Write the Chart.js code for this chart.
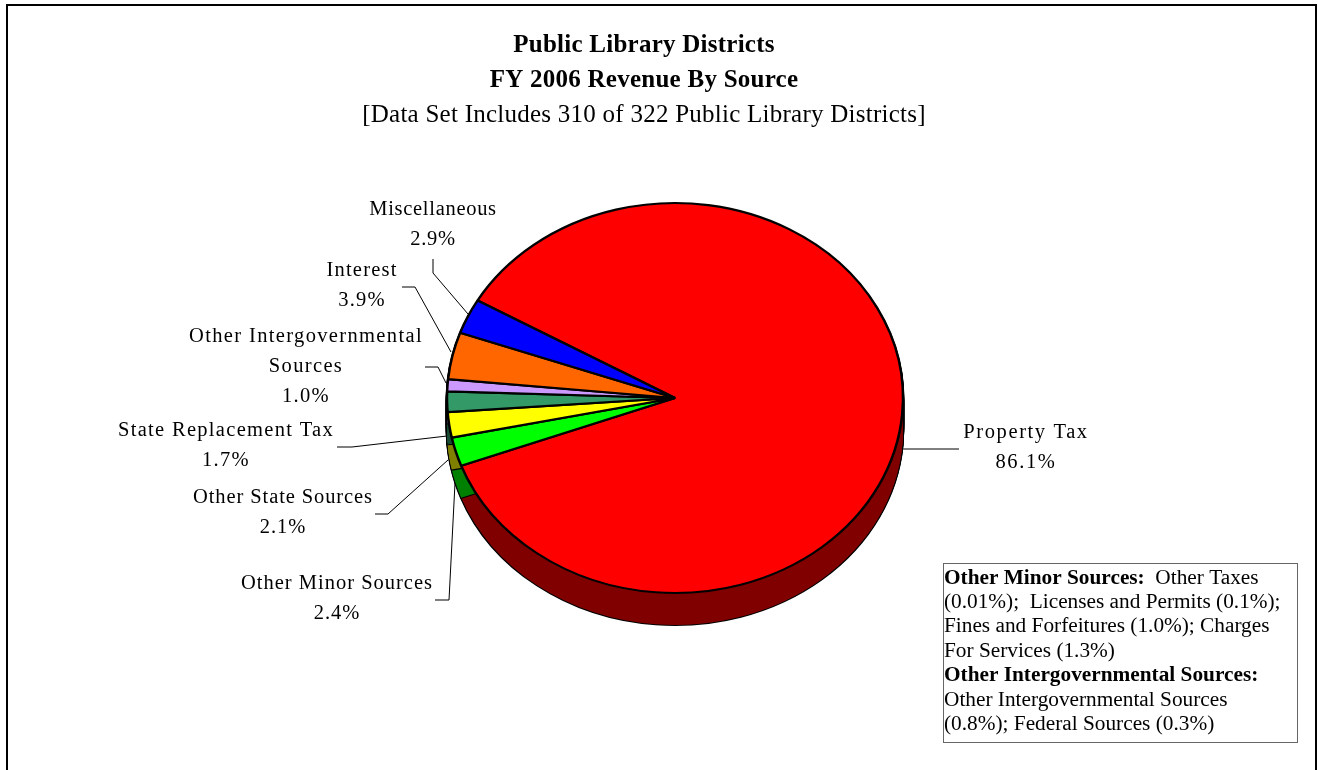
<!DOCTYPE html>
<html>
<head>
<meta charset="utf-8">
<title>Public Library Districts</title>
<script src="https://cdn.jsdelivr.net/npm/chart.js@4"></script>
<style>
  html, body { margin: 0; background: #fff; overflow: hidden; }
  canvas { display: block; }
</style>
</head>
<body>
<canvas id="pieChart" width="1318" height="770"></canvas>
<script>
const categories = ['Property Tax', 'Other Minor Sources', 'Other State Sources', 'State Replacement Tax',
  'Other Intergovernmental Sources', 'Interest', 'Miscellaneous'];
const revenueShare = [86.1, 2.4, 2.1, 1.7, 1.0, 3.9, 2.9];
const sliceColors = ['#ff0000', '#00ff00', '#ffff00', '#339966', '#cc99ff', '#ff6600', '#0000ff'];
const sideColors = ['#800000', '#008000', '#808000', '#1a4d33', '#664d80', '#803300', '#000080'];

const titleLines = ['Public Library Districts', 'FY 2006 Revenue By Source'];
const subtitleLine = '[Data Set Includes 310 of 322 Public Library Districts]';

// note box: each line is a list of [text, bold]
const noteLines = [
  [['Other Minor Sources:', true], ['  Other Taxes', false]],
  [['(0.01%);  Licenses and Permits (0.1%);', false]],
  [['Fines and Forfeitures (1.0%); Charges', false]],
  [['For Services (1.3%)', false]],
  [['Other Intergovernmental Sources:', true]],
  [['Other Intergovernmental Sources', false]],
  [['(0.8%); Federal Sources (0.3%)', false]]
];

// label centre x, first line y, letter spacing, leader polyline, one entry per category
const labelLayout = [
  { x: 1026, y: 433, spacing: 1.6, lines: ['Property Tax'], leader: [[959, 449], [903, 449]] },
  { x: 337, y: 584, spacing: 1.0, lines: ['Other Minor Sources'], leader: [[435, 600], [449, 600], [455, 483]] },
  { x: 283, y: 498, spacing: 0.9, lines: ['Other State Sources'], leader: [[375, 514], [388, 514], [448, 460]] },
  { x: 226, y: 431, spacing: 1.3, lines: ['State Replacement Tax'], leader: [[337, 447], [352, 447], [447, 436]] },
  { x: 306, y: 337, spacing: 1.35, lines: ['Other Intergovernmental', 'Sources'], leader: [[425, 367], [438, 367], [446, 383]] },
  { x: 362, y: 271, spacing: 1.2, lines: ['Interest'], leader: [[402, 287], [415, 287], [451, 352]] },
  { x: 433, y: 210, spacing: 0.7, lines: ['Miscellaneous'], leader: [[433, 259], [433, 273], [468, 314]] }
];

const pieCenter = { x: 675, y: 398 };
const pieRadius = 228;
const pieSquash = 195 / 228;
const pieDepth = 32;
const serif = '"Liberation Serif", "Times New Roman", serif';

// tilts the pie and builds the side wall out of the chart's own arcs
const tiltedPie = {
  id: 'tiltedPie',
  beforeDraw(chart) {
    chart.ctx.letterSpacing = '0.25px'; // title text is slightly spaced out
  },
  beforeDatasetsDraw(chart) {
    const ctx = chart.ctx;
    const arcs = chart.getDatasetMeta(0).data;
    ctx.save();
    ctx.translate(pieCenter.x, pieCenter.y);
    ctx.scale(1, pieSquash);
    ctx.translate(-arcs[0].x, -arcs[0].y);
    arcs.forEach(function (arc, i) {
      const saved = arc.options;
      arc.options = Object.assign({}, saved, { backgroundColor: '#000', borderColor: '#000', borderWidth: 2.5 });
      for (let d = pieDepth; d > 0; d -= 1) {
        ctx.save();
        ctx.translate(0, d / pieSquash);
        arc.draw(ctx);
        ctx.restore();
      }
      arc.options = Object.assign({}, saved, { backgroundColor: sideColors[i], borderWidth: 0 });
      for (let d = pieDepth; d > 0; d -= 1) {
        ctx.save();
        ctx.translate(0, d / pieSquash);
        arc.draw(ctx);
        ctx.restore();
      }
      arc.options = saved;
    });
  },
  afterDatasetsDraw(chart) {
    chart.ctx.restore();
  }
};

// labels, leaders, note box and the outer frame
const annotations = {
  id: 'annotations',
  afterDraw(chart) {
    const ctx = chart.ctx;
    ctx.save();

    ctx.strokeStyle = '#000';
    ctx.lineWidth = 2;
    ctx.strokeRect(7, 5, 1309, 800);

    ctx.lineWidth = 1;
    labelLayout.forEach(function (item) {
      ctx.beginPath();
      item.leader.forEach(function (p, i) {
        if (i === 0) ctx.moveTo(p[0], p[1]); else ctx.lineTo(p[0], p[1]);
      });
      ctx.stroke();
    });

    ctx.fillStyle = '#000';
    ctx.textAlign = 'center';
    ctx.textBaseline = 'middle';
    ctx.font = '20.5px ' + serif;
    labelLayout.forEach(function (item, i) {
      ctx.letterSpacing = item.spacing + 'px';
      const lines = item.lines.concat(revenueShare[i].toFixed(1) + '%');
      lines.forEach(function (line, n) {
        ctx.fillText(line, item.x, item.y + n * 29.7);
      });
    });
    ctx.letterSpacing = '0px';

    ctx.strokeStyle = '#666';
    ctx.strokeRect(943.5, 563.5, 354, 179);
    ctx.textAlign = 'left';
    noteLines.forEach(function (parts, n) {
      let x = 944;
      parts.forEach(function (part) {
        ctx.font = (part[1] ? 'bold ' : '') + '21.3px ' + serif;
        ctx.fillText(part[0], x, 578 + n * 24.4);
        x += ctx.measureText(part[0]).width;
      });
    });
    ctx.restore();
  }
};

new Chart(document.getElementById('pieChart'), {
  type: 'pie',
  data: {
    labels: categories,
    datasets: [{
      data: revenueShare,
      backgroundColor: sliceColors,
      borderColor: '#000',
      borderWidth: 2.5,
      clip: false
    }]
  },
  options: {
    responsive: false,
    animation: false,
    rotation: 300,
    radius: pieRadius,
    layout: { padding: { right: 30 } },
    plugins: {
      legend: { display: false },
      tooltip: { enabled: false },
      title: {
        display: true,
        fullSize: false,
        text: titleLines,
        color: '#000',
        font: { family: serif, size: 25, weight: 'bold', lineHeight: 1.4 },
        padding: { top: 28, bottom: 0 }
      },
      subtitle: {
        display: true,
        fullSize: false,
        text: subtitleLine,
        color: '#000',
        font: { family: serif, size: 25, weight: 'normal', lineHeight: 1.36 },
        padding: 0
      }
    }
  },
  plugins: [tiltedPie, annotations]
});
</script>
</body>
</html>
